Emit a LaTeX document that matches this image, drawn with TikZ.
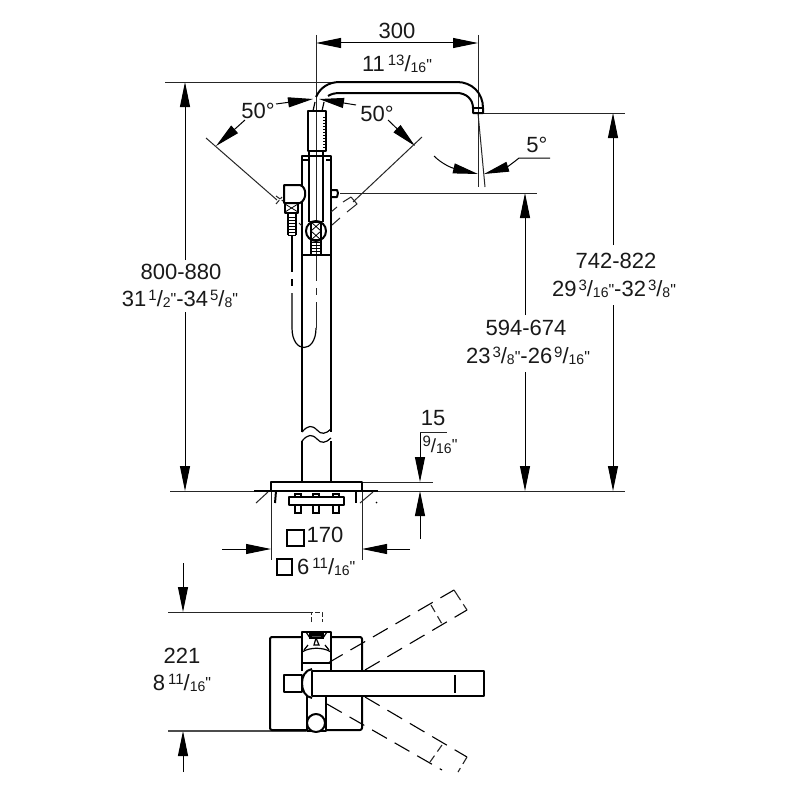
\documentclass[tikz,border=0pt]{standalone}
\usepackage{fontspec}
\setmainfont{Liberation Sans}[Ligatures=TeXOff]
\usetikzlibrary{arrows.meta}
\newcommand{\frc}[2]{\raisebox{0.55ex}{\fontsize{15}{15}\selectfont #1}/\raisebox{-0.1ex}{\fontsize{14}{14}\selectfont #2}}
\newcommand{\qt}{\raisebox{0.15ex}{\fontsize{16}{16}\selectfont"}}
\tikzset{
  thin line/.style={line width=1pt,black!85},
  obj/.style={line width=2pt,black,line join=round},
  fine/.style={line width=1.2pt,black},
  dimtip/.style={line width=1pt,black,-{Triangle[length=25pt,width=10pt]}},
  dash part/.style={line width=1.1pt,black,dash pattern=on 17pt off 9pt},
  short dash/.style={line width=1pt,black!85,dash pattern=on 5pt off 2pt},
  lab/.style={font=\fontsize{22}{22}\selectfont,text=black!90,inner sep=0pt},
}
\begin{document}
\begin{tikzpicture}[x=1pt,y=-1pt]
\fill[white] (0,0) rectangle (800,800);
\useasboundingbox (0,0) rectangle (800,800);

% ---------- labels
\node[lab] (t300) at (397,31) {300};
\node[lab] (t300b) at (397,64) {11\hspace{3pt}\frc{13}{16}\qt};
\node[lab] (t50l) at (258,111) {50°};
\node[lab] (t50r) at (377,114) {50°};
\node[lab] (t5) at (537,145) {5°};
\node[lab] (t800) at (181,272) {800-880};
\node[lab] (t800b) at (180,299) {31\hspace{2pt}\frc{1}{2}\qt-34\hspace{2pt}\frc{5}{8}\qt};
\node[lab] (t742) at (616,261) {742-822};
\node[lab] (t742b) at (614,289) {29\hspace{2pt}\frc{3}{16}\qt-32\hspace{2pt}\frc{3}{8}\qt};
\node[lab] (t594) at (526,328) {594-674};
\node[lab] (t594b) at (528,356) {23\hspace{2pt}\frc{3}{8}\qt-26\hspace{2pt}\frc{9}{16}\qt};
\node[lab] (t15) at (433,418) {15};
\node[lab,font=\fontsize{19}{19}\selectfont] (t15b) at (440,445) {\frc{9}{16}\qt};
\node[lab] (t170) at (325,535) {170};
\node[lab,anchor=west] (t611) at (297,567) {6\hspace{3pt}\frc{11}{16}\qt};
\node[lab] (t221) at (182,656) {221};
\node[lab] (t221b) at (182,683) {8\hspace{3pt}\frc{11}{16}\qt};
\draw[line width=1.4pt,black] (287,530) rectangle (304,546);
\draw[line width=1.4pt,black] (277,559) rectangle (292,575);

% ---------- named dimension end points
\coordinate (a300l) at (316,43); \coordinate (a300r) at (478,43);
\coordinate (a300m) at (397,43);
\coordinate (l1) at (185,82); \coordinate (l2) at (185,491);
\coordinate (l1e) at (185,260); \coordinate (l2e) at (185,312);
\coordinate (r1) at (613,113); \coordinate (r2) at (613,491);
\coordinate (r1e) at (613,245); \coordinate (r2e) at (613,305);
\coordinate (m1) at (525,193); \coordinate (m2) at (525,491);
\coordinate (m1e) at (525,315); \coordinate (m2e) at (525,372);
\coordinate (s1) at (420,482); \coordinate (s1e) at (420,432);
\coordinate (s2) at (420,491); \coordinate (s2e) at (420,539);
\coordinate (b1) at (271,549); \coordinate (b1e) at (222,549);
\coordinate (b2) at (362,549); \coordinate (b2e) at (410,549);
\coordinate (p1) at (183,612); \coordinate (p1e) at (183,563);
\coordinate (p2) at (183,731); \coordinate (p2e) at (183,772);

% ---------- dimension lines
\draw[dimtip] (a300m) -- (a300l);
\draw[dimtip] (a300m) -- (a300r);
\draw[dimtip] (l1e) -- (l1);
\draw[dimtip] (l2e) -- (l2);
\draw[dimtip] (r1e) -- (r1);
\draw[dimtip] (r2e) -- (r2);
\draw[dimtip] (m1e) -- (m1);
\draw[dimtip] (m2e) -- (m2);
\draw[dimtip] (s1e) -- (s1);
\draw[thin line] (s1e) -- (447,432);
\draw[dimtip] (s2e) -- (s2);
\draw[dimtip] (b1e) -- (b1);
\draw[dimtip] (b2e) -- (b2);
\draw[dimtip] (p1e) -- (p1);
\draw[dimtip] (p2e) -- (p2);
% angle 50
\draw[dimtip] (245,120) -- (216,146);
\draw[dimtip] (276,104) -- (313,99);
\draw[dimtip] (356,105) -- (319,99);
\draw[dimtip] (388,120) -- (415,146);
% angle 5
\draw[dimtip] (434,156) .. controls (442,164) and (452,168) .. (478,174);
\draw[dimtip] (550,158) -- (519,158) .. controls (513,163) and (507,167) .. (484,174);

% ---------- extension lines
\draw[thin line] (165,82) -- (335,82);
\draw[thin line] (316,35) -- (316,281);
\draw[thin line] (316,288) -- (316,295);
\draw[thin line] (316,302) -- (316,328);
\draw[thin line] (478,35) -- (478,187);
\draw[thin line] (478,113) -- (485,187);
\draw[thin line] (483,113) -- (625,113);
\draw[thin line] (340,193) -- (537,193);
\draw[thin line] (362,482) -- (433,482);
\draw[thin line] (170,491) -- (625,491);
\draw[thin line] (271,490) -- (271,560);
\draw[thin line] (362,490) -- (362,560);
\draw[thin line] (168,612) -- (312,612);
\draw[line width=1.3pt,black!70] (168,731) -- (306,731);
\draw[thin line] (206,138) -- (277,200);
\draw[thin line] (422,137) -- (353,202);

% ---------- spout, side view
\draw[obj] (316,97) .. controls (320,88) and (328,82) .. (340,82) -- (457,82)
  .. controls (472,82) and (483,93) .. (483,108) -- (483,113) -- (473,113) -- (473,108)
  .. controls (473,99) and (466,93) .. (457,93) -- (340,93) .. controls (335,93) and (331,94) .. (328,96);
\draw[fine] (473,108) -- (483,108);

% ---------- hand shower
\draw[obj] (308,111) rectangle (326,151);
\draw[fine] (313,111) -- (315,102);
\draw[fine] (322,111) -- (324,102);
\foreach \yy in {117,120,...,147} \draw[line width=.7pt] (323,\yy) -- (326,\yy);
\draw[fine] (309,151) -- (309,222);
\draw[fine] (323,151) -- (323,222);

% ---------- column
\draw[obj] (302,432) -- (302,156) -- (331,156) -- (331,432);
\draw[obj] (302,482) -- (302,441);
\draw[obj] (331,482) -- (331,441);
\draw[fine] (302,432) .. controls (308,425) and (312,425) .. (317,430) .. controls (321,435) and (326,434) .. (331,429);
\draw[fine] (302,441) .. controls (308,434) and (312,434) .. (317,439) .. controls (321,444) and (326,443) .. (331,438);
\draw[fine] (302,255) -- (331,255);
\draw[fine] (302,160) -- (308,160);
\draw[fine] (326,160) -- (331,160);

% ---------- lower ball and thread
\draw[obj,fill=white] (316,231) circle (10);
\draw[fine] (311,222) rectangle (321,240);
\draw[line width=.8pt] (311,222) -- (321,231) -- (311,240) (321,222) -- (311,231) -- (321,240);
\draw[fine] (311,240) rectangle (321,255);
\foreach \yy in {242,245,...,254} \draw[line width=.8pt] (311,\yy) -- (321,\yy);

% ---------- holder on the column
\draw[obj,fill=white] (300,203) -- (284,203) -- (284,185) -- (300,185) .. controls (307,187) and (307,200) .. (300,203);
\draw[obj] (285,203) rectangle (298,213);
\draw[line width=.8pt] (285,204) -- (298,212) (298,204) -- (285,212);
\draw[fine] (288,213) -- (288,235) (296,213) -- (296,235);
\foreach \yy in {217,220,...,235} \draw[line width=.8pt] (288,\yy) -- (296,\yy);
\draw[fine] (292,235) -- (292,272);
\draw[fine] (292,279) -- (292,286);
\draw[fine] (292,293) -- (292,328) .. controls (292,354) and (316,354) .. (316,328);

% ---------- knob
\draw[obj] (331,190) -- (337,190) -- (338,193) -- (337,197) -- (331,197);

% ---------- break marks
\draw[short dash] (276,204) -- (282,197) (276,196) -- (283,201);
\draw[thin line] (343,202) -- (351,197) (351,197) -- (357,204) -- (347,212);
\draw[thin line] (331,212) -- (337,207) (332,225) -- (340,218);
\draw[thin line] (299,223) -- (302,226);

% ---------- base
\draw[obj] (271,490) -- (271,482) -- (362,482) -- (362,490);
\draw[obj] (254,491) -- (378,491);
\draw[thin line] (256,503) -- (268,492);
\draw[thin line] (360,503) -- (373,492);
\draw[obj] (276,491) -- (275,503);
\draw[obj] (356,491) -- (356,503);
\draw[fine] (376,502) -- (377,503);
\draw[obj,fill=white] (289,497) rectangle (344,505);
\foreach \xx in {298,316,336} {
  \draw[fine] (\xx-3,505) -- (\xx-3,513) -- (\xx+3,513) -- (\xx+3,505);
  \draw[fine] (\xx-3,497) -- (\xx-3,494) -- (\xx+3,494) -- (\xx+3,497);
}

% ---------- top view
\draw[obj,rounded corners=2pt] (270,637) rectangle (362,730);
\draw[obj,fill=white] (302,663) -- (302,632) -- (331,632) -- (331,663);
\draw[obj] (302,671) -- (302,663) -- (331,663) -- (331,671);
\draw[fine] (302,652) .. controls (310,647) and (323,647) .. (331,652);
\draw[fine] (310,634) rectangle (323,638);
\draw[fine,fill=black!70] (311,635) rectangle (322,638);
\draw[fine] (316,638) -- (314,645) -- (319,645) -- (316,638);
\draw[fine] (306,632) -- (310,638) (327,632) -- (323,638);
\draw[fine] (304,650) -- (308,645) (329,650) -- (325,645);
\draw[short dash] (311,622) -- (311,612) -- (322,612) -- (322,622);
\draw[obj,fill=white] (284,675) rectangle (302,692);
\draw[obj,fill=white] (307,696) rectangle (326,731);
\draw[obj,fill=white] (316,723) circle (9);
\draw[obj,fill=white] (312,669) .. controls (305,670) and (302,677) .. (302,683)
  .. controls (302,690) and (305,697) .. (312,698);
\draw[obj,fill=white] (484,671) -- (312,671) -- (312,696) -- (484,696) -- cycle;
\draw[fine] (455,675) -- (455,693);

% ---------- swung spouts
\draw[dash part] (328,663) -- (454,590);
\draw[dash part] (365,670) -- (467,610);
\draw[short dash,line width=1.1pt,dash pattern=on 12pt off 5pt] (454,590) -- (467,610);
\draw[short dash,line width=1.1pt,dash pattern=on 8pt off 5pt] (431,605) -- (442,624);
\draw[dash part] (327,704) -- (442,770);
\draw[dash part] (365,697) -- (467,757);
\draw[short dash,line width=1.1pt,dash pattern=on 8pt off 5pt] (467,757) -- (458,772);
\draw[short dash,line width=1.1pt,dash pattern=on 8pt off 5pt] (442,745) -- (430,762);
\end{tikzpicture}
\end{document}
